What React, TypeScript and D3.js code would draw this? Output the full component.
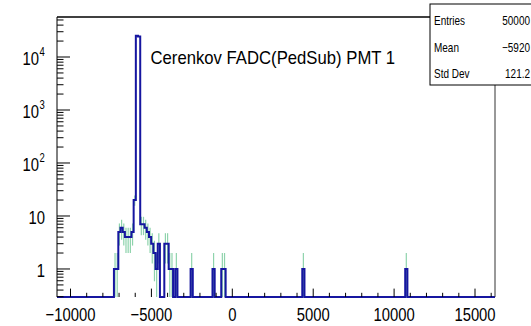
import React from "react";
import * as d3 from "d3";

const W = 531;
const H = 326;

// histogram definition
const xMin = -10835;
const xMax = 16236;
const nBins = 200;
const binIndex = [26, 27, 28, 29, 30, 31, 32, 33, 34, 35, 36, 37, 38, 39, 40, 41, 42, 43, 44, 45, 46, 49, 50, 51, 52, 54, 61, 71, 75, 76, 112, 159];
const binCount = [1, 1, 5, 6, 5, 4, 4, 4, 5, 20, 25300, 24500, 7, 7, 6, 5, 4, 3, 2, 1, 3, 3, 3, 1, 1, 1, 1, 1, 1, 1, 1, 1];

const xTickValues = [-10000, -5000, 0, 5000, 10000, 15000];
const xTickLabels = ["\u221210000", "\u22125000", "0", "5000", "10000", "15000"];
const yDecades = [0, 1, 2, 3, 4];
const yTickLabels = ["1", "10", "10", "10", "10"];
const ySup = ["", "", "2", "3", "4"];

const title = "Cerenkov FADC(PedSub) PMT  1";
const statNames = ["Entries", "Mean", "Std Dev"];
const statValues = ["50000", "\u22125920", "121.2"];

const yMinV = 0.296;
const yMaxV = 56900;

export default function App() {
  const left = 57, right = 495, top = 17, bottom = 297;
  const x = d3.scaleLinear().domain([xMin, xMax]).range([left, right]);
  const y = d3.scaleLog().domain([yMinV, yMaxV]).range([bottom, top]);
  const bw = (xMax - xMin) / nBins;

  const counts = new Array(nBins).fill(0);
  binIndex.forEach((k, i) => (counts[k] = binCount[i]));

  const yOf = (c: number) => (c > 0 ? y(c) : bottom);
  let path = `M${x(xMin)},${bottom}`;
  for (let k = 0; k < nBins; k++) {
    const yy = yOf(counts[k]);
    path += `L${x(xMin + k * bw)},${yy}L${x(xMin + (k + 1) * bw)},${yy}`;
  }
  path += `L${x(xMax)},${bottom}`;

  const errs = binIndex.map((k, i) => {
    const n = binCount[i];
    const e = Math.sqrt(n);
    const lo = n - e > yMinV ? y(n - e) : bottom;
    const hi = y(Math.min(n + e, yMaxV));
    return { cx: x(xMin + (k + 0.5) * bw), lo, hi };
  });

  const xMinor: number[] = [];
  for (let v = -10000; v <= 16000; v += 1000) xMinor.push(v);
  const yMinor: number[] = [];
  for (let d = -1; d <= 4; d++) {
    for (let m = 2; m <= 9; m++) {
      const v = m * Math.pow(10, d);
      if (v >= yMinV && v <= yMaxV) yMinor.push(v);
    }
  }
  const font = "Liberation Sans, Arial, Helvetica, sans-serif";
  const sx = 0.95, sy = 1.22;

  return (
    <svg width={W} height={H} style={{ position: "fixed", left: 0, top: 0, background: "#fff" }} fontFamily={font}>
      <rect x={0} y={0} width={W} height={H} fill="#fff" />
      {errs.map((e, i) => (
        <line key={"e" + i} x1={e.cx} x2={e.cx} y1={e.lo} y2={e.hi} stroke="#8ed3ac" strokeWidth={1.2} />
      ))}
      <path d={path} fill="none" stroke="#1616a0" strokeWidth={2} strokeLinejoin="miter" />
      <line x1={left} x2={left} y1={top} y2={bottom} stroke="#000" strokeWidth={1} />
      <line x1={left} x2={right} y1={top} y2={top} stroke="#000" strokeWidth={1.5} />
      <line x1={right} x2={right} y1={top} y2={bottom} stroke="#333" strokeWidth={1} />
      {xMinor.map((v) => (
        <line key={"xm" + v} x1={x(v)} x2={x(v)} y1={bottom} y2={bottom - (v % 5000 === 0 ? 8.4 : 4.2)} stroke="#000" strokeWidth={1} />
      ))}
      {xTickValues.map((v, i) => (
        <text key={"xl" + v} transform={`translate(${x(v)},${bottom + 24}) scale(${sx},${sy})`} fontSize={15.6} textAnchor="middle" fill="#000">
          {xTickLabels[i]}
        </text>
      ))}
      {yMinor.map((v, i) => (
        <line key={"ym" + i} x1={left} x2={left + 6.5} y1={y(v)} y2={y(v)} stroke="#000" strokeWidth={1} />
      ))}
      {yDecades.map((d) => (
        <line key={"yM" + d} x1={left} x2={left + 13} y1={y(Math.pow(10, d))} y2={y(Math.pow(10, d))} stroke="#000" strokeWidth={1} />
      ))}
      {yDecades.map((d, i) => (
        <text key={"yl" + d} transform={`translate(${ySup[i] ? 39 : 45},${y(Math.pow(10, d)) + 8}) scale(${sx},${sy})`} fontSize={15.6} textAnchor="end" fill="#000">
          {yTickLabels[i]}
        </text>
      ))}
      {yDecades.map((d, i) =>
        ySup[i] ? (
          <text key={"ys" + d} transform={`translate(39.5,${y(Math.pow(10, d)) - 1}) scale(${sx},${sy})`} fontSize={10} textAnchor="start" fill="#000">
            {ySup[i]}
          </text>
        ) : null
      )}
      <text transform={`translate(150.5,64) scale(1,1.1)`} fontSize={16.7} fill="#000">{title}</text>
      <rect x={430} y={4} width={110} height={81} fill="#fff" stroke="#000" strokeWidth={1} />
      {statNames.map((s, i) => (
        <text key={"sn" + i} transform={`translate(434,${25 + i * 26.5}) scale(0.95,1.2)`} fontSize={10.5} fill="#000">{s}</text>
      ))}
      {statValues.map((s, i) => (
        <text key={"sv" + i} transform={`translate(530,${25 + i * 26.5}) scale(0.95,1.2)`} fontSize={10.5} textAnchor="end" fill="#000">{s}</text>
      ))}
    </svg>
  );
}
